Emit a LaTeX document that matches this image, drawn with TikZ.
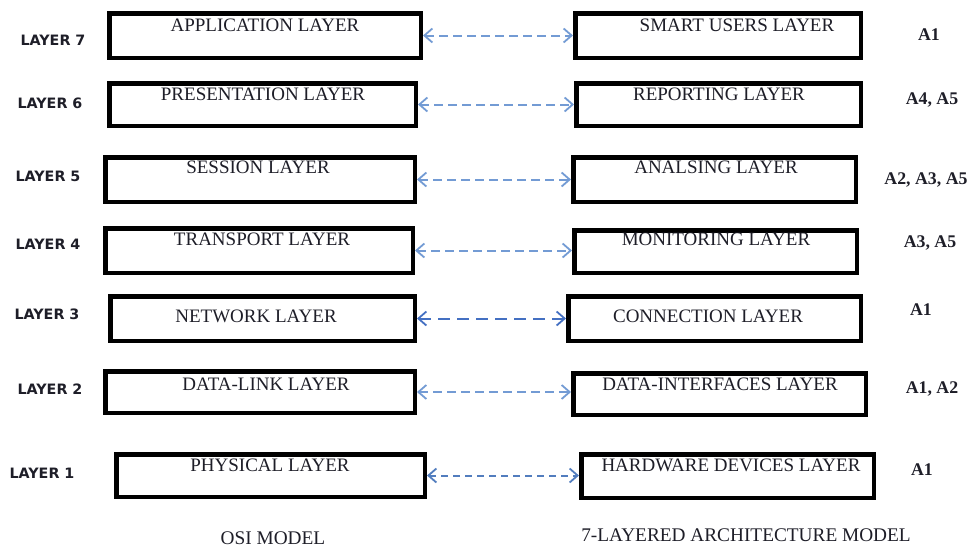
\documentclass[tikz,border=0pt]{standalone}
\usepackage{fontspec}
\setmainfont{Liberation Serif}
\newfontfamily\labfont{DejaVu Sans}
\usetikzlibrary{arrows.meta,shadows}
\definecolor{arrlight}{RGB}{115,155,212}
\definecolor{arrdark}{RGB}{68,112,194}
\definecolor{arrmid}{RGB}{82,125,190}
\definecolor{txtcol}{RGB}{30,30,40}
\begin{document}
\begin{tikzpicture}[x=1pt,y=-1pt,
  box/.style={draw=black,line width=4.5pt,fill=white,inner sep=0pt,
    drop shadow={shadow xshift=2pt,shadow yshift=-2pt,opacity=0.25,fill=gray}},
  boxtxt/.style={font=\fontsize{19}{21}\selectfont,text=txtcol,inner sep=0pt,anchor=base},
  laytxt/.style={font=\labfont\bfseries\fontsize{14.3}{16}\selectfont,text=txtcol,inner sep=0pt},
  atxt/.style={font=\bfseries\fontsize{17.8}{19}\selectfont,text=txtcol,inner sep=0pt},
  captxt/.style={font=\fontsize{19.3}{21}\selectfont,text=txtcol,inner sep=0pt,anchor=base},
  link/.style={draw=arrlight,line width=2pt,dash pattern=on 9pt off 5pt,
    {Straight Barb[length=8pt,width=14pt,line width=1.8pt]}-{Straight Barb[length=8pt,width=14pt,line width=1.8pt]}},
  linkdark/.style={link,draw=arrdark,dash pattern=on 12pt off 7pt},
  linkmid/.style={link,draw=arrmid,dash pattern=on 7pt off 5pt}]
\useasboundingbox (0,0) rectangle (969,547);

% left boxes
\node[box,minimum width=311.5pt,minimum height=44.5pt] (l7) at (265,35.5) {};
\node[box,minimum width=306.5pt,minimum height=42.5pt] (l6) at (262.5,104.5) {};
\node[box,minimum width=309.5pt,minimum height=44.5pt] (l5) at (260,179.5) {};
\node[box,minimum width=307.5pt,minimum height=44.5pt] (l4) at (259,250.5) {};
\node[box,minimum width=304.5pt,minimum height=44.5pt] (l3) at (262.5,318.5) {};
\node[box,minimum width=309.5pt,minimum height=41.5pt] (l2) at (260,392) {};
\node[box,minimum width=308.5pt,minimum height=42.5pt] (l1) at (270.5,475.5) {};

% right boxes
\node[box,minimum width=285.5pt,minimum height=44.5pt] (r7) at (718,35.5) {};
\node[box,minimum width=284.5pt,minimum height=42.5pt] (r6) at (718.5,104.5) {};
\node[box,minimum width=282.5pt,minimum height=44.5pt] (r5) at (714.5,179.5) {};
\node[box,minimum width=282.5pt,minimum height=42.5pt] (r4) at (715.5,251.5) {};
\node[box,minimum width=292.5pt,minimum height=44.5pt] (r3) at (714.5,318.5) {};
\node[box,minimum width=292.5pt,minimum height=41.5pt] (r2) at (719.5,394) {};
\node[box,minimum width=292.5pt,minimum height=43.5pt] (r1) at (727.5,476) {};

% box texts
\node[boxtxt] (t7) at (265,31) {APPLICATION LAYER};
\node[boxtxt] (t6) at (263,100) {PRESENTATION LAYER};
\node[boxtxt] (t5) at (258,173) {SESSION LAYER};
\node[boxtxt] (t4) at (262,245) {TRANSPORT LAYER};
\node[boxtxt] (t3) at (256,322) {NETWORK LAYER};
\node[boxtxt] (t2) at (266,390) {DATA-LINK LAYER};
\node[boxtxt] (t1) at (270,471) {PHYSICAL LAYER};
\node[boxtxt] (s7) at (737,31) {SMART USERS LAYER};
\node[boxtxt] (s6) at (719,100) {REPORTING LAYER};
\node[boxtxt] (s5) at (716,173) {ANALSING LAYER};
\node[boxtxt] (s4) at (716,245) {MONITORING LAYER};
\node[boxtxt] (s3) at (708,322) {CONNECTION LAYER};
\node[boxtxt] (s2) at (720,390) {DATA-INTERFACES LAYER};
\node[boxtxt] (s1) at (731,471) {HARDWARE DEVICES LAYER};

% layer labels
\node[laytxt] (n7) at (53,40) {LAYER 7};
\node[laytxt] (n6) at (50,103) {LAYER 6};
\node[laytxt] (n5) at (48,176) {LAYER 5};
\node[laytxt] (n4) at (48,244) {LAYER 4};
\node[laytxt] (n3) at (47,314) {LAYER 3};
\node[laytxt] (n2) at (50,389) {LAYER 2};
\node[laytxt] (n1) at (42,473) {LAYER 1};

% A labels
\node[atxt] (a7) at (929,35) {A1};
\node[atxt] (a6) at (932,100) {A4, A5};
\node[atxt] (a5) at (926,180) {A2, A3, A5};
\node[atxt] (a4) at (930,243) {A3, A5};
\node[atxt] (a3) at (921,310) {A1};
\node[atxt] (a2) at (932,389) {A1, A2};
\node[atxt] (a1) at (922,470) {A1};

% captions
\node[captxt] (osi) at (273,544) {OSI MODEL};
\node[captxt] (arch) at (746,541) {7-LAYERED ARCHITECTURE MODEL};

% links
\draw[link] (l7.east) -- (l7.east -| r7.west);
\draw[link] (l6.east) -- (l6.east -| r6.west);
\draw[link] (l5.east) -- (l5.east -| r5.west);
\draw[link] (l4.east) -- (l4.east -| r4.west);
\draw[linkdark] (l3.east) -- (l3.east -| r3.west);
\draw[link] (l2.east) -- (l2.east -| r2.west);
\draw[linkmid] (l1.east) -- (l1.east -| r1.west);
\end{tikzpicture}
\end{document}
